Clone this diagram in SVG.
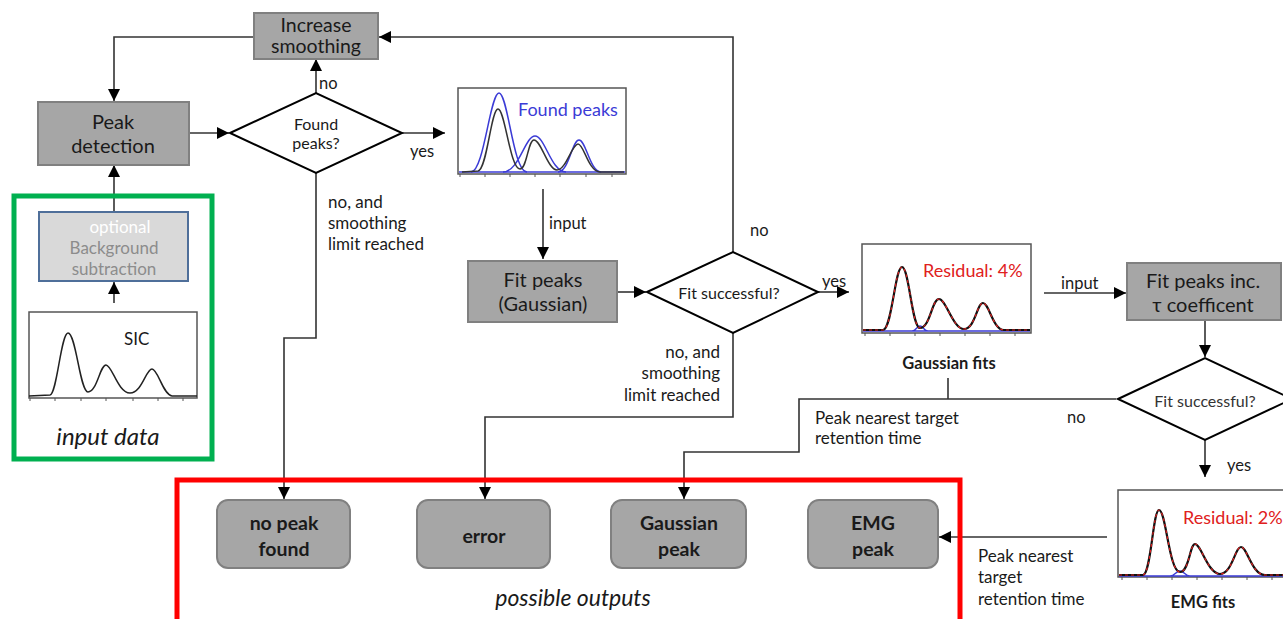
<svg xmlns="http://www.w3.org/2000/svg" width="1283" height="619" viewBox="0 0 1283 619">
<defs>
<marker id="ah" markerUnits="userSpaceOnUse" markerWidth="13" markerHeight="12" refX="12" refY="6" orient="auto">
<path d="M0,0 L12,6 L0,12 z" fill="#000"/>
</marker>
<style>
text{font-family:Lato,"Open Sans","Liberation Sans",sans-serif;fill:#1a1a1a}
.proc{fill:#a6a6a6;stroke:#808080;stroke-width:2}
.out{fill:#a6a6a6;stroke:#808080;stroke-width:2}
.dia{fill:#fff;stroke:#000;stroke-width:2}
.conn{fill:none;stroke:#333;stroke-width:1.6}
.arr{marker-end:url(#ah)}
.t19{font-size:20px;text-anchor:middle}
.t14{font-size:16px;text-anchor:middle}
.lbl{font-size:17px}
.yn{font-size:16.5px}
.ob{font-size:19.5px;font-weight:bold;text-anchor:middle}
.chart{fill:#fff;stroke:#555;stroke-width:1.5}
.tick{stroke:#555;stroke-width:1}
</style>
</defs>
<rect width="1283" height="619" fill="#fff"/>

<g id="connectors">
<path class="conn arr" d="M254,37 L114,37 L114,101"/>
<path class="conn arr" d="M733,252 L733,37 L379,37"/>
<path class="conn arr" d="M189,133 L229,133"/>
<path class="conn arr" d="M316,93 L316,59"/>
<path class="conn arr" d="M402,133 L445,133"/>
<path class="conn arr" d="M316,173 L316,338 L284,338 L284,499"/>
<path class="conn arr" d="M114,212 L114,165"/>
<path class="conn arr" d="M114,303 L114,282"/>
<path class="conn arr" d="M543,189 L543,259"/>
<path class="conn arr" d="M617,292 L646,292"/>
<path class="conn arr" d="M818,292 L849,292"/>
<path class="conn arr" d="M733,333 L733,417 L485,417 L485,499"/>
<path class="conn arr" d="M1044,293 L1126,293"/>
<path class="conn arr" d="M1205,320 L1205,357"/>
<path class="conn arr" d="M1205,440 L1205,477"/>
<path class="conn" d="M948,378 L948,399"/>
<path class="conn arr" d="M1116,399 L799,399 L799,452 L684,452 L684,499"/>
<path class="conn arr" d="M1107,537 L939,537"/>
</g>

<g id="input-data">
<rect x="14" y="196" width="198" height="263" fill="none" stroke="#00b050" stroke-width="5"/>
<text x="108" y="445" style="font-size:24px;font-style:italic;text-anchor:middle">input data</text>
</g>

<g id="bg-subtraction">
<rect x="39" y="212" width="149" height="69" fill="#d9d9d9" stroke="#4f6f9a" stroke-width="2"/>
<text x="120" y="233" style="font-size:17px;text-anchor:middle;fill:#fff">optional</text>
<text x="114" y="254" style="font-size:17px;text-anchor:middle;fill:#8c8c8c">Background</text>
<text x="114" y="275" style="font-size:17px;text-anchor:middle;fill:#8c8c8c">subtraction</text>
</g>

<g id="sic-chart">
<rect class="chart" x="29" y="312" width="168" height="86"/>
<path class="tick" d="M30,398v3M55,398v3M81,398v3M106,398v3M133,398v3M158,398v3M183,398v3"/>
<path d="M29,396 L50,395 C57,394 61,333 68,333 C76,333 80,392 88,392 C97,392 100,365 106,365 C112,365 118,393 130,393 C142,393 146,369 152,369 C158,369 163,395 172,396 L197,396" fill="none" stroke="#222" stroke-width="1.5"/>
<text x="124" y="345" style="font-size:17px">SIC</text>
</g>

<g id="peak-detection">
<rect class="proc" x="38" y="102" width="151" height="63"/>
<text class="t19" x="113" y="129">Peak</text>
<text class="t19" x="113" y="153">detection</text>
</g>

<g id="increase-smoothing">
<rect class="proc" x="254" y="13" width="124" height="46"/>
<text x="316" y="32" style="font-size:19.5px;text-anchor:middle">Increase</text>
<text x="316" y="53" style="font-size:19.5px;text-anchor:middle">smoothing</text>
</g>

<g id="found-peaks-decision">
<polygon class="dia" points="230,133 316,93 402,133 316,173"/>
<text class="t14" x="316" y="130">Found</text>
<text class="t14" x="316" y="149">peaks?</text>
<text class="yn" x="319" y="89">no</text>
<text class="yn" x="410" y="157">yes</text>
<text class="lbl" x="328" y="208">no, and</text>
<text class="lbl" x="328" y="229">smoothing</text>
<text class="lbl" x="328" y="250">limit reached</text>
</g>

<g id="found-peaks-chart">
<rect class="chart" x="458" y="88" width="168" height="86"/>
<path class="tick" d="M460,174v3M485,174v3M510,174v3M535,174v3M560,174v3M586,174v3M612,174v3"/>
<line x1="459" y1="172" x2="625" y2="172" stroke="#3b3bd6" stroke-width="1.5"/>
<path d="M471,172 C484,172 490,93 499,93 C508,93 513,172 527,172 M503,172 C519,172 525,136 535,136 C545,136 551,172 566,172 M558,172 C569,172 572,140 579,140 C586,140 590,172 601,172" fill="none" stroke="#3b3bd6" stroke-width="1.5"/>
<path d="M462,172 L478,171 C487,170 491,109 498,109 C505,109 510,169 520,169 C527,169 528,140 534,140 C541,140 548,170 557,170 C566,170 572,144 578,144 C584,144 588,171 600,172 L624,172" fill="none" stroke="#333" stroke-width="1.5"/>
<text x="518" y="116" style="font-size:18px;fill:#3b3bd6">Found peaks</text>
<text class="yn" x="549" y="229">input</text>
</g>

<g id="fit-peaks-gaussian">
<rect class="proc" x="468" y="261" width="149" height="61"/>
<text class="t19" x="543" y="287">Fit peaks</text>
<text class="t19" x="543" y="311">(Gaussian)</text>
</g>

<g id="fit-successful-1">
<polygon class="dia" points="647,292 733,252 818,292 733,333"/>
<text class="t14" x="729" y="299">Fit successful?</text>
<text class="yn" x="750" y="236">no</text>
<text class="yn" x="822" y="287">yes</text>
<text class="lbl" x="720" y="358" text-anchor="end">no, and</text>
<text class="lbl" x="720" y="379" text-anchor="end">smoothing</text>
<text class="lbl" x="720" y="401" text-anchor="end">limit reached</text>
</g>

<g id="gaussian-fits-chart">
<rect class="chart" x="862" y="244" width="169" height="89"/>
<path class="tick" d="M865,333v3M890,333v3M915,333v3M940,333v3M965,333v3M990,333v3M1015,333v3"/>
<path d="M863,331 L1030,331 M912,331 C916,331 917,326 920,326 C923,326 924,331 928,331" fill="none" stroke="#3b3bd6" stroke-width="1.5"/>
<path d="M863,330 L883,330 C892,329 895,267 902,267 C909,267 912,328 920,328 C930,328 932,299 939,299 C946,299 953,329 964,329 C975,329 977,303 983,303 C989,303 993,330 1004,330 L1030,330" fill="none" stroke="#111" stroke-width="2.2"/>
<path d="M863,330 L883,330 C892,329 895,267 902,267 C909,267 912,328 920,328 C930,328 932,299 939,299 C946,299 953,329 964,329 C975,329 977,303 983,303 C989,303 993,330 1004,330 L1030,330" fill="none" stroke="#e02020" stroke-width="1.2" stroke-dasharray="3,3"/>
<text x="923" y="277" style="font-size:18px;fill:#e02020">Residual: 4%</text>
<text x="949" y="369" style="font-size:16.5px;font-weight:bold;text-anchor:middle">Gaussian fits</text>
<text class="yn" x="1061" y="289">input</text>
<text class="lbl" x="815" y="424">Peak nearest target</text>
<text class="lbl" x="815" y="444">retention time</text>
</g>

<g id="fit-peaks-tau">
<rect class="proc" x="1127" y="263" width="154" height="57"/>
<text class="t19" x="1203" y="288">Fit peaks inc.</text>
<text class="t19" x="1203" y="312">τ coefficent</text>
</g>

<g id="fit-successful-2">
<polygon class="dia" points="1118,399 1205,358 1292,399 1205,440"/>
<text x="1205" y="407" style="font-size:16px;text-anchor:middle;fill:#333">Fit successful?</text>
<text class="yn" x="1067" y="423">no</text>
<text class="yn" x="1227" y="471">yes</text>
</g>

<g id="emg-fits-chart">
<rect class="chart" x="1118" y="490" width="170" height="87"/>
<path class="tick" d="M1122,577v3M1147,577v3M1172,577v3M1197,577v3M1222,577v3M1247,577v3M1272,577v3"/>
<path d="M1119,576 L1283,576 M1170,576 C1175,576 1176,571 1180,571 C1184,571 1185,576 1190,576" fill="none" stroke="#3b3bd6" stroke-width="1.5"/>
<path d="M1119,575 L1143,575 C1151,574 1153,510 1159,510 C1166,510 1169,572 1180,572 C1189,572 1190,544 1195,544 C1201,544 1208,574 1220,574 C1232,574 1235,547 1241,547 C1247,547 1252,575 1265,575 L1283,575" fill="none" stroke="#111" stroke-width="2.2"/>
<path d="M1119,575 L1143,575 C1151,574 1153,510 1159,510 C1166,510 1169,572 1180,572 C1189,572 1190,544 1195,544 C1201,544 1208,574 1220,574 C1232,574 1235,547 1241,547 C1247,547 1252,575 1265,575 L1283,575" fill="none" stroke="#e02020" stroke-width="1.2" stroke-dasharray="3,3"/>
<text x="1183" y="524" style="font-size:18px;fill:#e02020">Residual: 2%</text>
<text x="1203" y="608" style="font-size:16.5px;font-weight:bold;text-anchor:middle">EMG fits</text>
<text class="lbl" x="978" y="562">Peak nearest</text>
<text class="lbl" x="978" y="583">target</text>
<text class="lbl" x="978" y="605">retention time</text>
</g>

<g id="possible-outputs">
<rect x="177" y="480" width="783" height="150" fill="none" stroke="#ff0000" stroke-width="5"/>
<text x="573" y="606" style="font-size:23px;font-style:italic;text-anchor:middle">possible outputs</text>
</g>

<g id="no-peak-found">
<rect class="out" x="217" y="500" width="133" height="68" rx="11"/>
<text class="ob" x="284" y="530">no peak</text>
<text class="ob" x="284" y="556">found</text>
</g>
<g id="error">
<rect class="out" x="417" y="500" width="133" height="68" rx="11"/>
<text class="ob" x="484" y="543">error</text>
</g>
<g id="gaussian-peak">
<rect class="out" x="611" y="500" width="135" height="68" rx="11"/>
<text class="ob" x="679" y="530">Gaussian</text>
<text class="ob" x="679" y="556">peak</text>
</g>
<g id="emg-peak">
<rect class="out" x="808" y="500" width="130" height="68" rx="11"/>
<text class="ob" x="873" y="530">EMG</text>
<text class="ob" x="873" y="556">peak</text>
</g>
</svg>
